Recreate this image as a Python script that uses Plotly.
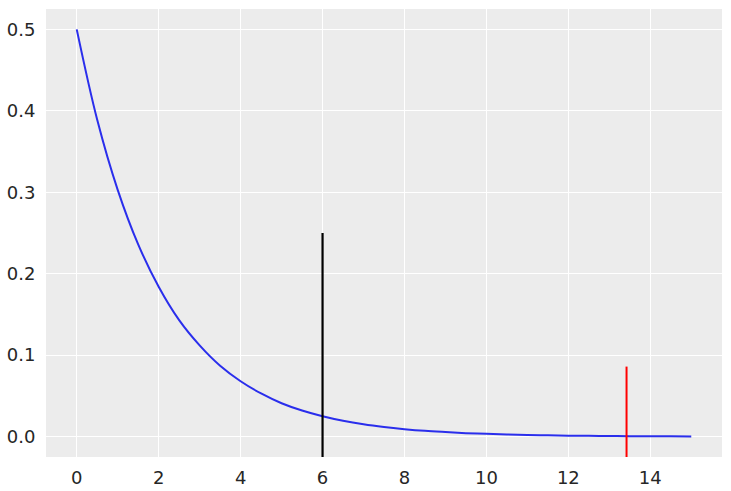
import plotly.graph_objs as go

# density curve at half-unit steps
x_vals = [0.0, 0.5, 1.0, 1.5, 2.0, 2.5, 3.0, 3.5, 4.0, 4.5, 5.0, 5.5, 6.0, 6.5, 7.0,
          7.5, 8.0, 8.5, 9.0, 9.5, 10.0, 10.5, 11.0, 11.5, 12.0, 12.5, 13.0, 13.5,
          14.0, 14.5, 15.0]
y_vals = [0.500, 0.389, 0.303, 0.236, 0.184, 0.143, 0.112, 0.087, 0.068, 0.053,
          0.041, 0.032, 0.025, 0.0194, 0.0151, 0.0118, 0.0092, 0.0071, 0.0056, 0.0043,
          0.0034, 0.0026, 0.0020, 0.0016, 0.0012, 0.0010, 0.0008, 0.0006,
          0.0005, 0.0004, 0.0003]

# vertical markers: x position and height
black_x, black_top = 6.0, 0.25
red_x, red_top = 13.42, 0.086
y_bottom = -0.025

fig = go.Figure()
fig.add_trace(go.Scatter(
    x=x_vals, y=y_vals, mode='lines',
    line=dict(color='#2a2eec', width=2, shape='spline'),
))
fig.add_trace(go.Scatter(
    x=[black_x, black_x], y=[y_bottom, black_top], mode='lines',
    line=dict(color='black', width=2.2),
))
fig.add_trace(go.Scatter(
    x=[red_x, red_x], y=[y_bottom, red_top], mode='lines',
    line=dict(color='red', width=2),
))

axis_style = dict(
    showgrid=True, gridcolor='white', gridwidth=1,
    zeroline=False, showline=False, automargin=False,
    ticks='outside', tickcolor='rgba(0,0,0,0)',
    tickfont=dict(family='DejaVu Sans', size=18, color='#262626'),
)

fig.update_layout(
    width=731, height=491,
    margin=dict(l=46, r=9, t=9, b=34),
    showlegend=False,
    paper_bgcolor='white',
    plot_bgcolor='#ececec',
    xaxis=dict(range=[-0.75, 15.75], tickvals=[0, 2, 4, 6, 8, 10, 12, 14],
               ticklen=4, **axis_style),
    yaxis=dict(range=[-0.025, 0.525], tickvals=[0.0, 0.1, 0.2, 0.3, 0.4, 0.5],
               tickformat='.1f', ticklen=6, **axis_style),
)

# drop the default page margin so the figure fills the window exactly
fig.write_html("out.html", config={'displayModeBar': False},
               post_script="document.body.style.margin = '0';")
